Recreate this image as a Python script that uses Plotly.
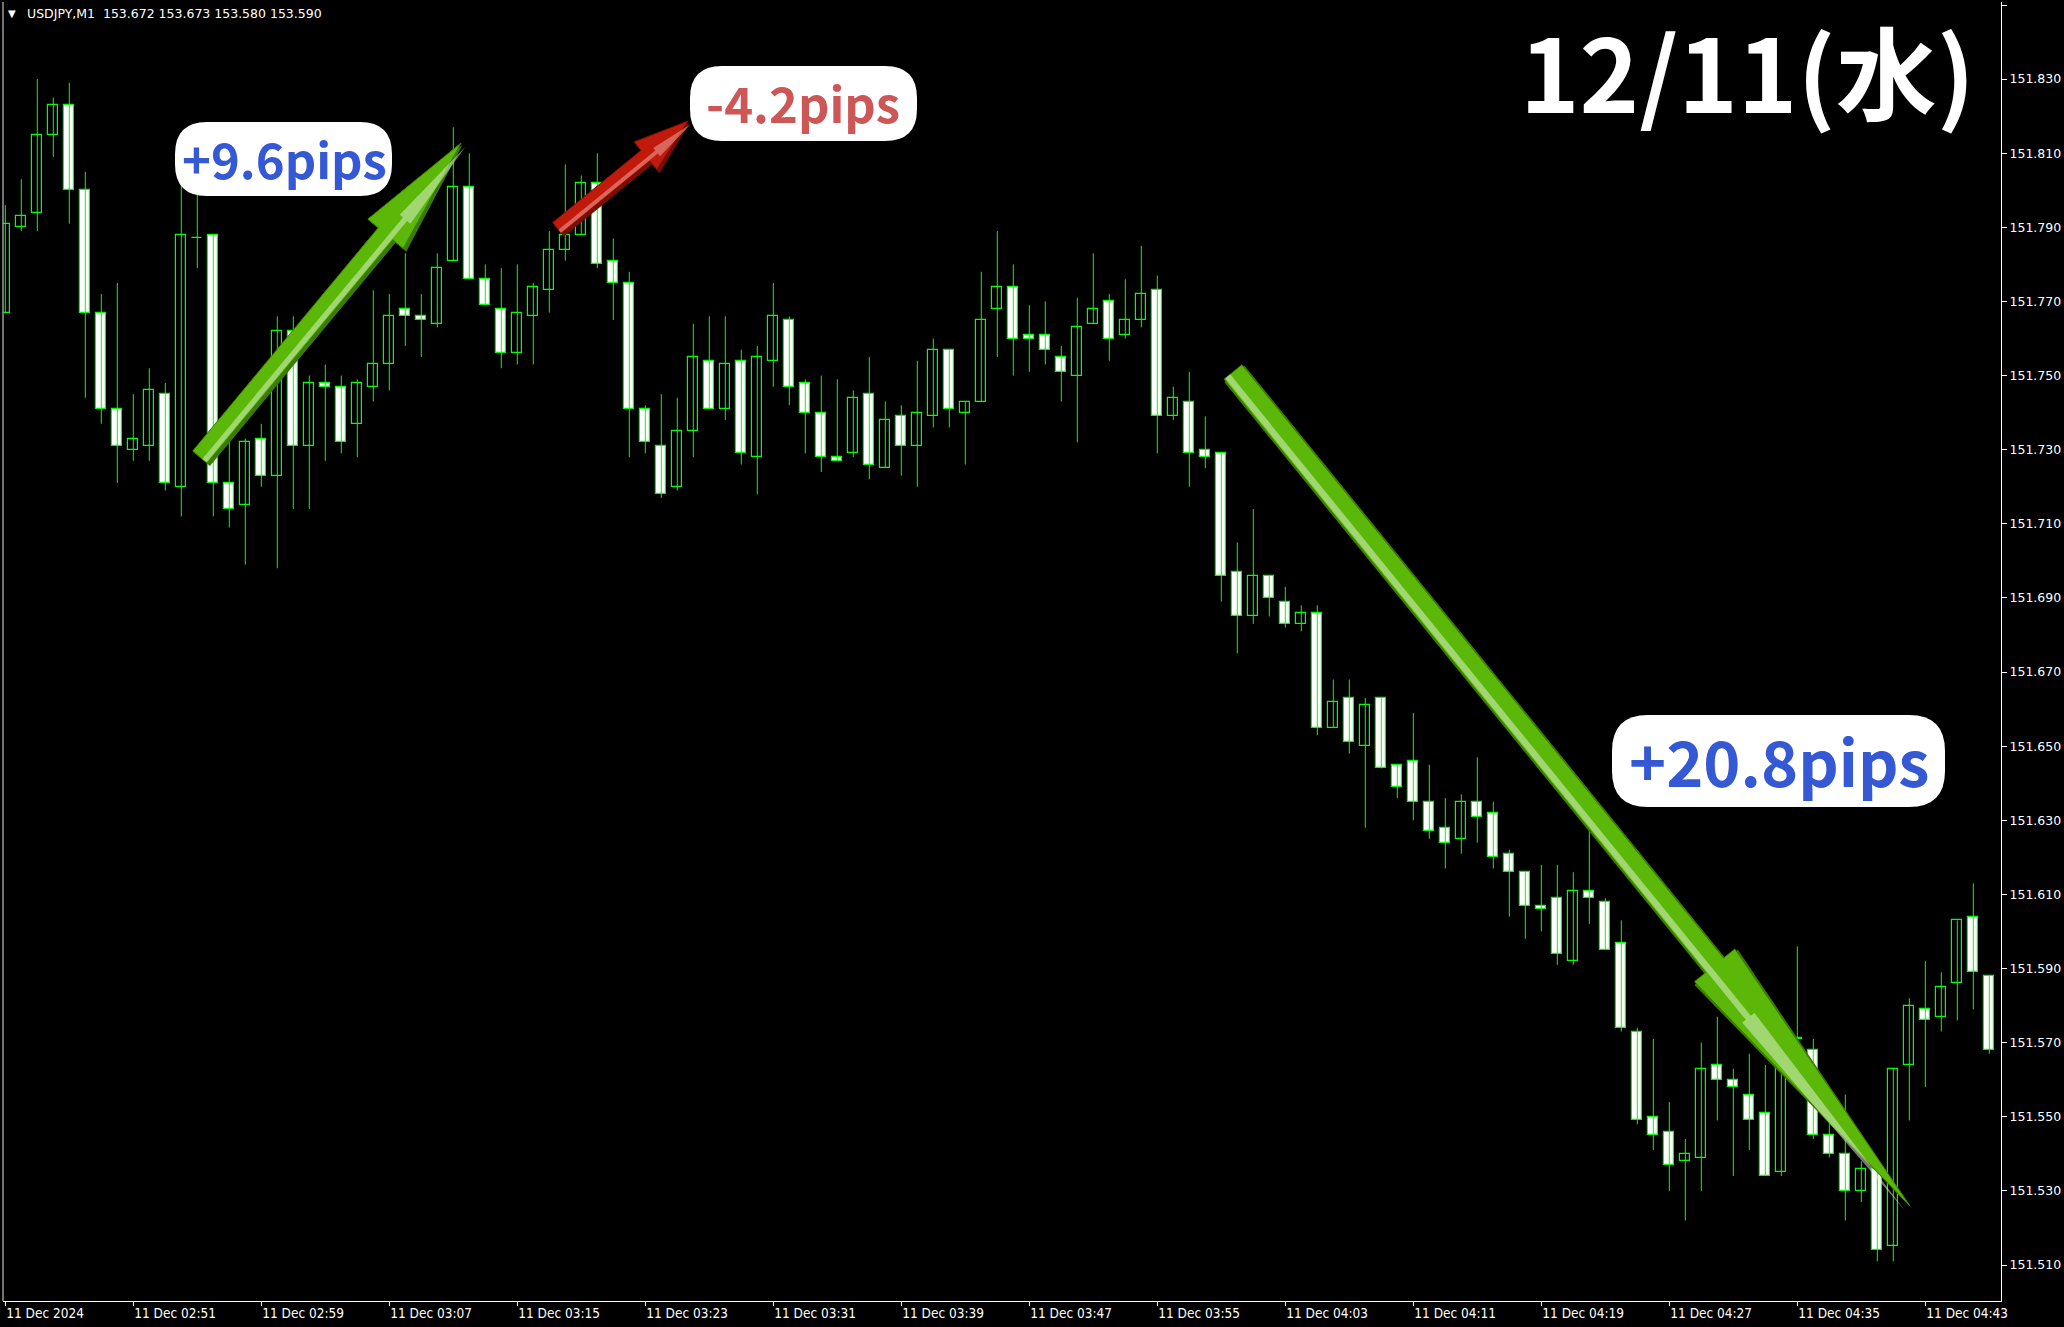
import plotly.graph_objects as go

# ---------------- data (USDJPY M1, 11 Dec 2024 02:43 - 04:47) ----------------
candle_idx = list(range(125))
opens = [151.767, 151.790, 151.794, 151.815, 151.823, 151.800, 151.767, 151.741, 151.730, 151.731,
         151.745, 151.720, 151.787, 151.788, 151.721, 151.715, 151.733, 151.723, 151.762, 151.731,
         151.748, 151.747, 151.737, 151.747, 151.753, 151.768, 151.766, 151.764, 151.781, 151.801,
         151.776, 151.768, 151.756, 151.766, 151.773, 151.784, 151.788, 151.802, 151.781, 151.775,
         151.741, 151.731, 151.720, 151.735, 151.754, 151.741, 151.754, 151.728, 151.754, 151.765,
         151.748, 151.740, 151.728, 151.729, 151.745, 151.725, 151.739, 151.731, 151.739, 151.757,
         151.740, 151.743, 151.768, 151.774, 151.761, 151.761, 151.755, 151.750, 151.764, 151.770,
         151.761, 151.765, 151.773, 151.739, 151.743, 151.730, 151.729, 151.697, 151.685, 151.696,
         151.689, 151.683, 151.686, 151.655, 151.663, 151.650, 151.663, 151.645, 151.646, 151.635,
         151.628, 151.625, 151.635, 151.632, 151.621, 151.616, 151.607, 151.609, 151.592, 151.611,
         151.608, 151.597, 151.573, 151.550, 151.546, 151.538, 151.539, 151.564, 151.560, 151.556,
         151.551, 151.535, 151.571, 151.568, 151.545, 151.540, 151.530, 151.536, 151.515, 151.564,
         151.579, 151.577, 151.586, 151.604, 151.588]
highs = [151.796, 151.803, 151.830, 151.825, 151.829, 151.805, 151.772, 151.775, 151.745, 151.752,
         151.748, 151.802, 151.799, 151.788, 151.733, 151.733, 151.737, 151.766, 151.766, 151.750,
         151.753, 151.750, 151.749, 151.773, 151.772, 151.783, 151.772, 151.783, 151.817, 151.810,
         151.780, 151.779, 151.780, 151.775, 151.789, 151.807, 151.804, 151.810, 151.787, 151.778,
         151.742, 151.745, 151.744, 151.764, 151.766, 151.766, 151.757, 151.758, 151.775, 151.766,
         151.749, 151.750, 151.749, 151.746, 151.755, 151.743, 151.742, 151.754, 151.760, 151.757,
         151.743, 151.778, 151.789, 151.780, 151.769, 151.770, 151.758, 151.771, 151.783, 151.772,
         151.776, 151.785, 151.777, 151.747, 151.751, 151.739, 151.729, 151.705, 151.714, 151.696,
         151.693, 151.688, 151.688, 151.668, 151.668, 151.663, 151.663, 151.645, 151.659, 151.645,
         151.636, 151.637, 151.647, 151.635, 151.622, 151.616, 151.618, 151.618, 151.616, 151.628,
         151.609, 151.603, 151.574, 151.571, 151.554, 151.544, 151.570, 151.577, 151.563, 151.567,
         151.564, 151.571, 151.596, 151.571, 151.549, 151.556, 151.538, 151.537, 151.563, 151.582,
         151.592, 151.589, 151.603, 151.613, 151.588]
lows = [151.767, 151.789, 151.789, 151.809, 151.791, 151.744, 151.737, 151.721, 151.727, 151.727,
        151.719, 151.712, 151.779, 151.712, 151.709, 151.699, 151.720, 151.698, 151.714, 151.714,
        151.727, 151.729, 151.728, 151.743, 151.746, 151.758, 151.755, 151.763, 151.781, 151.776,
        151.769, 151.752, 151.753, 151.753, 151.767, 151.781, 151.788, 151.779, 151.765, 151.728,
        151.729, 151.717, 151.719, 151.728, 151.741, 151.738, 151.726, 151.718, 151.747, 151.742,
        151.729, 151.724, 151.727, 151.728, 151.722, 151.725, 151.723, 151.720, 151.736, 151.736,
        151.726, 151.743, 151.755, 151.750, 151.751, 151.753, 151.743, 151.732, 151.764, 151.754,
        151.760, 151.763, 151.729, 151.738, 151.720, 151.725, 151.689, 151.675, 151.683, 151.685,
        151.682, 151.681, 151.653, 151.655, 151.648, 151.628, 151.644, 151.636, 151.630, 151.625,
        151.617, 151.621, 151.624, 151.617, 151.604, 151.598, 151.600, 151.591, 151.591, 151.602,
        151.595, 151.573, 151.548, 151.541, 151.530, 151.522, 151.530, 151.549, 151.534, 151.541,
        151.534, 151.534, 151.566, 151.544, 151.539, 151.522, 151.527, 151.511, 151.511, 151.549,
        151.558, 151.573, 151.576, 151.579, 151.567]
closes = [151.791, 151.793, 151.815, 151.823, 151.800, 151.767, 151.741, 151.731, 151.733, 151.746,
          151.721, 151.788, 151.787, 151.721, 151.714, 151.732, 151.723, 151.762, 151.731, 151.748,
          151.747, 151.732, 151.748, 151.753, 151.766, 151.766, 151.765, 151.779, 151.801, 151.776,
          151.769, 151.756, 151.767, 151.774, 151.784, 151.788, 151.802, 151.780, 151.775, 151.741,
          151.732, 151.718, 151.735, 151.755, 151.741, 151.753, 151.729, 151.755, 151.766, 151.747,
          151.740, 151.728, 151.727, 151.744, 151.726, 151.738, 151.731, 151.740, 151.757, 151.741,
          151.743, 151.765, 151.774, 151.760, 151.760, 151.757, 151.751, 151.763, 151.768, 151.760,
          151.765, 151.772, 151.739, 151.744, 151.729, 151.728, 151.696, 151.685, 151.696, 151.690,
          151.683, 151.686, 151.655, 151.662, 151.651, 151.661, 151.644, 151.639, 151.635, 151.627,
          151.624, 151.635, 151.631, 151.620, 151.616, 151.607, 151.606, 151.594, 151.611, 151.609,
          151.595, 151.574, 151.549, 151.545, 151.537, 151.540, 151.563, 151.560, 151.558, 151.549,
          151.534, 151.570, 151.571, 151.545, 151.540, 151.530, 151.536, 151.514, 151.563, 151.580,
          151.576, 151.585, 151.603, 151.589, 151.568]

x_tick_pos = [0, 8, 16, 24, 32, 40, 48, 56, 64, 72, 80, 88, 96, 104, 112, 120]
x_tick_text = ["11 Dec 2024", "11 Dec 02:51", "11 Dec 02:59", "11 Dec 03:07", "11 Dec 03:15",
               "11 Dec 03:23", "11 Dec 03:31", "11 Dec 03:39", "11 Dec 03:47", "11 Dec 03:55",
               "11 Dec 04:03", "11 Dec 04:11", "11 Dec 04:19", "11 Dec 04:27", "11 Dec 04:35",
               "11 Dec 04:43"]
y_tick_vals = [151.510, 151.530, 151.550, 151.570, 151.590, 151.610, 151.630, 151.650, 151.670,
               151.690, 151.710, 151.730, 151.750, 151.770, 151.790, 151.810, 151.830, 151.850]
y_tick_text = ["151.510", "151.530", "151.550", "151.570", "151.590", "151.610", "151.630",
               "151.650", "151.670", "151.690", "151.710", "151.730", "151.750", "151.770",
               "151.790", "151.810", "151.830", "151.850"]

header_text = "USDJPY,M1\u00a0\u00a0153.672 153.673 153.580 153.590"
date_text = "12/11(水)"
pips_labels = ["+9.6pips", "-4.2pips", "+20.8pips"]

# ---------------- figure ----------------
W, H = 2064, 1327
L_M, R_M, T_M, B_M = 3, 63, 2, 26
PLOT_W = W - L_M - R_M
PLOT_H = H - T_M - B_M
LIME = "#00ff00"


def PX(x):
    return (x - L_M) / PLOT_W


def PY(y):
    return (H - B_M - y) / PLOT_H


fig = go.Figure()

# wicks
wx, wy = [], []
for i, lo, hi in zip(candle_idx, lows, highs):
    wx += [i, i, None]
    wy += [lo, hi, None]
fig.add_trace(go.Scatter(x=wx, y=wy, mode="lines", line=dict(color=LIME, width=1),
                         hoverinfo="skip"))

MIN_BODY = 0.00025
bull_x, bull_b, bull_h, bear_x, bear_b, bear_h = [], [], [], [], [], []
for i, o, c in zip(candle_idx, opens, closes):
    base = min(o, c)
    hgt = max(abs(c - o), MIN_BODY)
    if c > o:
        bull_x.append(i); bull_b.append(base); bull_h.append(hgt)
    else:
        bear_x.append(i); bear_b.append(base); bear_h.append(hgt)

fig.add_trace(go.Bar(x=bull_x, y=bull_h, base=bull_b, width=0.62,
                     marker=dict(color="#000000", line=dict(color=LIME, width=1.2))))
fig.add_trace(go.Bar(x=bear_x, y=bear_h, base=bear_b, width=0.62,
                     marker=dict(color="#ffffff", line=dict(color=LIME, width=1.2))))

shapes = []


def poly_path(pts):
    s = "M " + " L ".join(f"{PX(x):.5f},{PY(y):.5f}" for x, y in pts) + " Z"
    return s


def arrow_pts(tail, tip, sw, hw, hl, off=0.0, shift=(0, 0)):
    import math
    dx, dy = tip[0] - tail[0], tip[1] - tail[1]
    ln = math.hypot(dx, dy)
    ux, uy = dx / ln, dy / ln
    nx, ny = -uy, ux
    tx, ty = tail[0] + nx * off + shift[0], tail[1] + ny * off + shift[1]
    px_, py_ = tip[0] + nx * off + shift[0], tip[1] + ny * off + shift[1]
    bx, by = px_ - ux * hl, py_ - uy * hl
    return [(tx + nx * sw / 2, ty + ny * sw / 2), (bx + nx * sw / 2, by + ny * sw / 2),
            (bx + nx * hw / 2, by + ny * hw / 2), (px_, py_),
            (bx - nx * hw / 2, by - ny * hw / 2), (bx - nx * sw / 2, by - ny * sw / 2),
            (tx - nx * sw / 2, ty - ny * sw / 2)]


def add_arrow(tail, tip, sw, hw, hl, dark, main, light):
    shapes.append(dict(type="path", xref="paper", yref="paper", layer="above",
                       path=poly_path(arrow_pts(tail, tip, sw + 3, hw + 4, hl, shift=(1.5, 2))),
                       fillcolor=dark, line=dict(width=0)))
    shapes.append(dict(type="path", xref="paper", yref="paper", layer="above",
                       path=poly_path(arrow_pts(tail, tip, sw, hw, hl)),
                       fillcolor=main, line=dict(color=dark, width=1)))
    shapes.append(dict(type="path", xref="paper", yref="paper", layer="above",
                       path=poly_path(arrow_pts(tail, tip, sw * 0.28, hw * 0.3, hl * 0.8,
                                                off=sw * 0.3)),
                       fillcolor=light, opacity=0.5, line=dict(width=0)))


add_arrow((200, 457), (461, 143), 19, 46, 118, "#3b7c00", "#5bb808", "#e8f5d8")
add_arrow((557, 228), (688, 121), 14, 36, 55, "#7a0e04", "#c01a0c", "#f4b0a8")
add_arrow((1233, 372), (1910, 1206), 23, 52, 310, "#3b7c00", "#5bb808", "#e8f5d8")


def rrect(x0, y0, x1, y1, r):
    pts = [(x0 + r, y0), (x1 - r, y0), ("Q", x1, y0, x1, y0 + r), (x1, y1 - r),
           ("Q", x1, y1, x1 - r, y1), (x0 + r, y1), ("Q", x0, y1, x0, y1 - r), (x0, y0 + r),
           ("Q", x0, y0, x0 + r, y0)]
    s = f"M {PX(pts[0][0]):.5f},{PY(pts[0][1]):.5f}"
    for p in pts[1:]:
        if p[0] == "Q":
            s += f" Q {PX(p[1]):.5f},{PY(p[2]):.5f} {PX(p[3]):.5f},{PY(p[4]):.5f}"
        else:
            s += f" L {PX(p[0]):.5f},{PY(p[1]):.5f}"
    return s + " Z"


boxes = [(175, 122, 392, 196, 32), (690, 66, 917, 141, 32), (1612, 715, 1945, 807, 36)]
for (x0, y0, x1, y1, r) in boxes:
    shapes.append(dict(type="path", xref="paper", yref="paper", layer="above",
                       path=rrect(x0, y0, x1, y1, r), fillcolor="#ffffff",
                       line=dict(width=0)))

# left border line
shapes.append(dict(type="line", xref="paper", yref="paper", x0=PX(3), x1=PX(3), y0=0, y1=1,
                   line=dict(color="#9a9a9a", width=1.5), layer="above"))

annotations = []
label_specs = [(pips_labels[0], 284, 157, 49, "#3559d5"),
               (pips_labels[1], 803, 101, 49, "#cd5656"),
               (pips_labels[2], 1779, 759, 63, "#3559d5")]
for txt, cx, cy, fs, col in label_specs:
    annotations.append(dict(text=f"<b>{txt}</b>", x=PX(cx), y=PY(cy), xref="paper", yref="paper",
                            showarrow=False, xanchor="center", yanchor="middle",
                            font=dict(family="Noto Sans CJK JP", size=fs, color=col)))

annotations.append(dict(text=f"<b>{date_text}</b>", x=PX(1977), y=PY(69), xref="paper",
                        yref="paper", showarrow=False, xanchor="right", yanchor="middle",
                        font=dict(family="Noto Sans CJK JP", size=101, color="#ffffff")))
annotations.append(dict(text="\u25bc", x=PX(6), y=PY(14), xref="paper", yref="paper",
                        showarrow=False, xanchor="left", yanchor="middle",
                        font=dict(family="DejaVu Sans", size=10, color="#ffffff")))
annotations.append(dict(text=header_text, x=PX(25), y=PY(14), xref="paper", yref="paper",
                        showarrow=False, xanchor="left", yanchor="middle",
                        font=dict(family="DejaVu Sans", size=12.5, color="#ffffff")))

fig.update_layout(
    width=W, height=H,
    margin=dict(l=L_M, r=R_M, t=T_M, b=B_M),
    paper_bgcolor="#000000", plot_bgcolor="#000000",
    showlegend=False, barmode="overlay", bargap=0,
    shapes=shapes, annotations=annotations,
    xaxis=dict(range=[-0.144, 124.73], tickmode="array", tickvals=x_tick_pos,
               ticktext=x_tick_text, ticks="outside", ticklen=4, tickcolor="#ffffff",
               ticklabelposition="outside right",
               tickfont=dict(family="DejaVu Sans Condensed", size=13.5, color="#ffffff"),
               showline=True, linecolor="#ffffff", linewidth=1, showgrid=False,
               zeroline=False),
    yaxis=dict(range=[151.50029, 151.85081], side="right", tickmode="array",
               tickvals=y_tick_vals, ticktext=y_tick_text, ticks="outside", ticklen=5,
               tickcolor="#ffffff", tickfont=dict(family="DejaVu Sans", size=12.5,
                                                  color="#ffffff"),
               showline=True, linecolor="#ffffff", linewidth=1, showgrid=False,
               zeroline=False),
)

fig.write_html("out.html", config={"displayModeBar": False},
               post_script="document.body.style.margin='0';document.body.style.background='#000';")
